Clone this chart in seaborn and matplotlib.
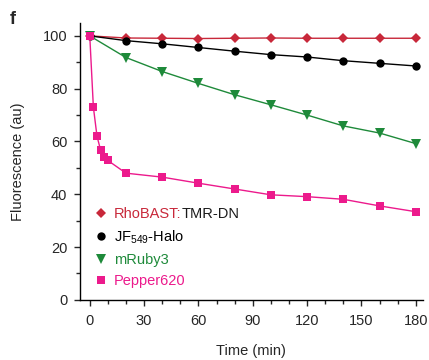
import matplotlib
matplotlib.use("Agg")
import matplotlib.pyplot as plt
import seaborn as sns
import pandas as pd
from matplotlib.ticker import MultipleLocator

sns.set_theme(style="ticks")
plt.rcParams['font.family'] = ['Liberation Sans', 'DejaVu Sans']
plt.rcParams['mathtext.fontset'] = 'custom'
plt.rcParams['mathtext.rm'] = 'Liberation Sans'

t_long = [0, 20, 40, 60, 80, 100, 120, 140, 160, 180]
rhobast = [100, 99.2, 99.1, 99.0, 99.1, 99.2, 99.1, 99.1, 99.1, 99.1]
jf549 = [100, 98.2, 97.0, 95.6, 94.2, 92.9, 92.0, 90.6, 89.6, 88.6]
mruby3 = [100, 91.8, 86.5, 82.0, 77.7, 73.9, 70.0, 65.9, 63.2, 59.2]
t_pepper = [0, 2, 4, 6, 8, 10, 20, 40, 60, 80, 100, 120, 140, 160, 180]
pepper = [100, 73.0, 62.0, 56.7, 54.3, 52.8, 48.0, 46.5, 44.2, 42.0, 39.8, 39.1, 38.1, 35.6, 33.4]

names = ["RhoBAST:TMR-DN", "JF549-Halo", "mRuby3", "Pepper620"]
colors = ["#C8283A", "#000000", "#1E8A3A", "#EC1A8C"]
markers = ["D", "o", "v", "s"]
msizes = [5, 6, 6.5, 5.5]

series = [(t_long, rhobast), (t_long, jf549), (t_long, mruby3), (t_pepper, pepper)]

fig = plt.figure(figsize=(4.29, 3.6), dpi=100)
ax = fig.add_axes([0.186, 0.167, 0.80, 0.770])

handles = []
for name, (tt, vv), c, m, ms in zip(names, series, colors, markers, msizes):
    df = pd.DataFrame({"t": tt, "v": vv})
    sns.lineplot(data=df, x="t", y="v", ax=ax, color=c, lw=1.0,
                 marker=m, markersize=ms, markeredgewidth=0, zorder=3)
    h, = ax.plot([], [], ls="none", marker=m, color=c, markersize=ms, markeredgewidth=0)
    handles.append(h)

ax.set_xlim(-5.5, 184)
ax.set_ylim(0, 105)
ax.xaxis.set_major_locator(MultipleLocator(30))
ax.xaxis.set_minor_locator(MultipleLocator(10))
ax.yaxis.set_major_locator(MultipleLocator(20))
ax.yaxis.set_minor_locator(MultipleLocator(10))
ax.tick_params(which="major", length=4, width=1, direction="out", labelsize=10.5)
ax.tick_params(axis="x", which="major", pad=6)
ax.tick_params(axis="y", which="major", pad=5)
ax.tick_params(which="minor", length=3, width=1, direction="out")
for s in ["top", "right"]:
    ax.spines[s].set_visible(False)
for s in ["left", "bottom"]:
    ax.spines[s].set_linewidth(1)
    ax.spines[s].set_color("black")
ax.set_xlabel("Time (min)", fontsize=10.5, labelpad=12)
ax.set_ylabel("Fluorescence (au)", fontsize=10.5, labelpad=13)

labels = ["RhoBAST:", r"JF$_{\mathrm{549}}$-Halo", "mRuby3", "Pepper620"]
leg = ax.legend(handles, labels, loc="lower left", bbox_to_anchor=(0.02, 0.01),
                frameon=False, fontsize=10.5, handlelength=0.8, handletextpad=0.45,
                labelspacing=0.5, borderaxespad=0.2)
for txt, c in zip(leg.get_texts(), colors):
    txt.set_color(c)

fig.text(0.022, 0.945, "f", fontsize=13, fontweight="bold", va="center")

fig.canvas.draw()
t0 = leg.get_texts()[0]
bb = t0.get_window_extent()
x1, y0 = fig.transFigure.inverted().transform((bb.x1, bb.y0))
fig.text(x1, y0, "TMR-DN", fontsize=10.5, color="#1a1a1a", va="bottom", ha="left")

fig.savefig("out.png", dpi=100)
